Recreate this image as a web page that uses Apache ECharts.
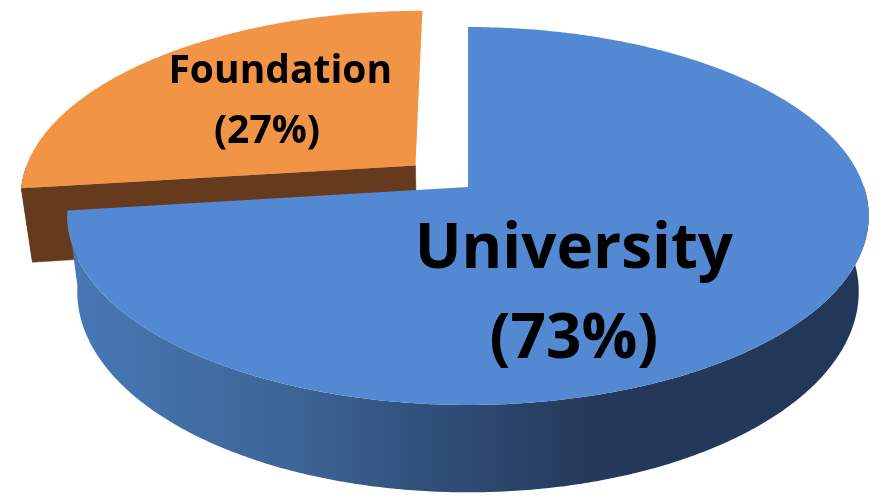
<!DOCTYPE html>
<html>
<head>
<meta charset="utf-8">
<script src="https://cdn.jsdelivr.net/npm/echarts@6/dist/echarts.min.js"></script>
<style>
html,body{margin:0;padding:0;background:#ffffff;}
#chart{width:887px;height:498px;}
</style>
</head>
<body>
<div id="chart"></div>
<script>
// ---- data ----
const categories = ['University', 'Foundation'];
const values = [73, 27];
const percentLabels = ['(73%)', '(27%)'];
const explode = [0, 0.18];

// ---- styles / layout (not data) ----
const topColors = ['#5389D2', '#F29445'];
const cutColors = ['#2A4468', '#653A1D'];
const rimColors = [
  ['#4779B7', '#3D6495', '#30507A', '#24395A', '#22385A'],
  ['#653A1D', '#653A1D', '#653A1D', '#653A1D', '#653A1D']
];
const rimStops = [0, 0.29, 0.45, 0.66, 1];
const labelFonts = ['bold 62px "Open Sans"', 'bold 39px "Open Sans"'];
// label line centres, as fractions of chart width/height
const labelLayout = [
  [[0.647, 0.502], [0.647, 0.683]],
  [[0.316, 0.145], [0.301, 0.265]]
];

const chart = echarts.init(document.getElementById('chart'), null, {renderer: 'canvas'});

function geom(W, H) {
  const k = W / 887;
  return {cx: 468 * k, cy: 187 * (H / 498), p: 396 * k, q: 184.5 * (H / 498), c: -0.1534, h: 74 * (H / 498), kb: 0.975};
}

function proj(G, th, r, bottom, ou, ov) {
  const a = th * Math.PI / 180;
  const u = r * Math.sin(a) + ou;
  const v = -r * Math.cos(a) + ov;
  const den = 1 + G.c * v;
  const s = bottom ? G.kb : 1;
  return [G.cx + s * G.p * u / den, G.cy + G.q * v / den + (bottom ? G.h / den : 0)];
}

function area(pts) {
  let s = 0;
  for (let i = 0; i < pts.length; i++) {
    const a = pts[i], b = pts[(i + 1) % pts.length];
    s += a[0] * b[1] - b[0] * a[1];
  }
  return s / 2;
}

const total = values.reduce((a, b) => a + b, 0);

function renderItem(params, api) {
  const idx = params.dataIndex;
  const W = api.getWidth(), H = api.getHeight();
  const G = geom(W, H);
  let before = 0;
  for (let i = 0; i < idx; i++) before += values[i];
  const val = api.value(1);
  const start = before / total * 360;
  const end = (before + val) / total * 360;
  const mid = (start + end) / 2 * Math.PI / 180;
  const ou = explode[idx] * Math.sin(mid);
  const ov = -explode[idx] * Math.cos(mid);
  const base = idx === 0 ? 20 : 0;
  const children = [];

  // outer rim (front-facing range)
  const r0 = Math.max(start, 90), r1 = Math.min(end, 270);
  if (r1 > r0) {
    const topPts = [], botPts = [];
    for (let t = r0; t < r1; t += 0.5) {
      topPts.push(proj(G, t, 1, false, ou, ov));
      botPts.push(proj(G, t, 1, true, ou, ov));
    }
    topPts.push(proj(G, r1, 1, false, ou, ov));
    botPts.push(proj(G, r1, 1, true, ou, ov));
    const pts = topPts.concat(botPts.reverse());
    children.push({
      type: 'polygon', z2: base + 1,
      shape: {points: pts},
      style: {
        fill: new echarts.graphic.LinearGradient(0, 0, 1, 0,
          rimStops.map((o, i) => ({offset: o, color: rimColors[idx][i]}))),
        stroke: null
      }
    });
  }

  // radial cut faces (only clearly front-facing ones)
  [[start, -1], [end, 1]].forEach(([ang, sign]) => {
    const quad = [
      proj(G, ang, 0, false, ou, ov),
      proj(G, ang, 1, false, ou, ov),
      proj(G, ang, 1, true, ou, ov),
      proj(G, ang, 0, true, ou, ov)
    ];
    const a = area(quad);
    if (a * sign > 2000) {
      children.push({
        type: 'polygon', z2: base + 2,
        shape: {points: quad},
        style: {fill: cutColors[idx], stroke: cutColors[idx], lineWidth: 0.5}
      });
    }
  });

  // top face
  const topFace = [proj(G, start, 0, false, ou, ov)];
  for (let t = start; t < end; t += 0.5) topFace.push(proj(G, t, 1, false, ou, ov));
  topFace.push(proj(G, end, 1, false, ou, ov));
  children.push({
    type: 'polygon', z2: base + 4,
    shape: {points: topFace},
    style: {fill: topColors[idx], stroke: null}
  });

  // labels
  const lines = [categories[idx], percentLabels[idx]];
  lines.forEach((txt, li) => {
    children.push({
      type: 'text', z2: base + 6,
      style: {
        text: txt,
        x: labelLayout[idx][li][0] * W,
        y: labelLayout[idx][li][1] * H,
        fill: '#000000',
        font: labelFonts[idx],
        align: 'center',
        verticalAlign: 'middle'
      }
    });
  });

  return {type: 'group', children: children};
}

chart.setOption({
  backgroundColor: '#ffffff',
  animation: false,
  series: [{
    type: 'custom',
    coordinateSystem: 'none',
    renderItem: renderItem,
    data: categories.map((c, i) => [i, values[i]])
  }]
});
</script>
</body>
</html>
